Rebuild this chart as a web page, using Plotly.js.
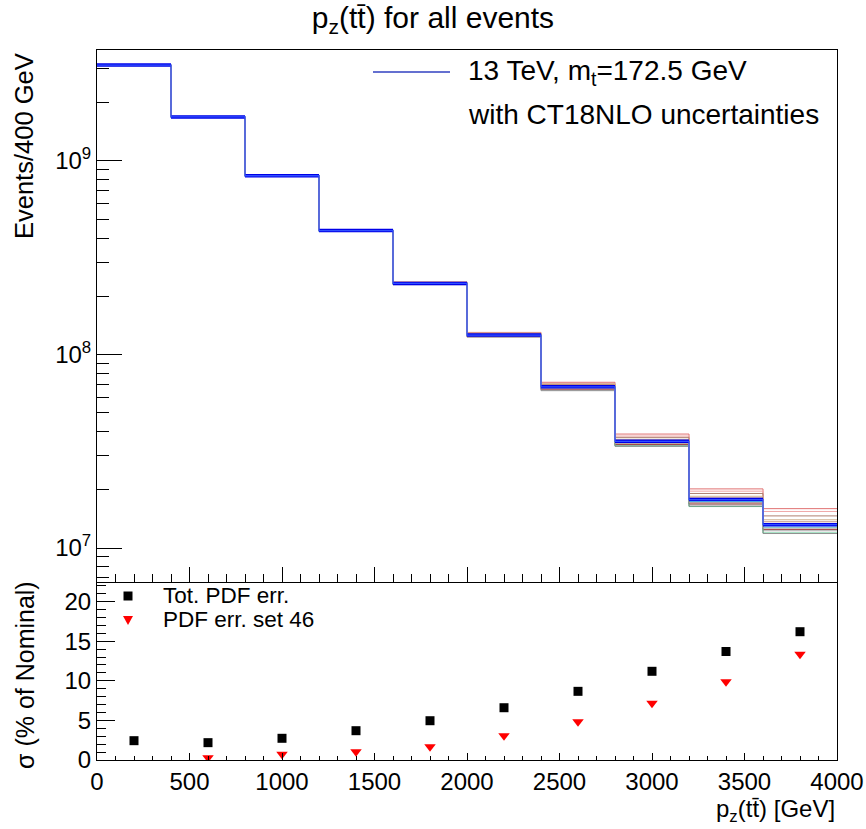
<!DOCTYPE html>
<html><head><meta charset="utf-8">
<script src="https://cdn.plot.ly/plotly-3.0.1.min.js"></script>
<style>body{margin:0;padding:0;background:#fff}</style>
</head><body><div id="chart" style="width:866px;height:829px"></div>
<script>
// ---- data ----
const binEdges = [0,400,800,1200,1600,2000,2400,2800,3200,3600,4000];
const binCenters = [200,600,1000,1400,1800,2200,2600,3000,3400,3800];
const nominal = [3.13e9,1.69e9,8.39e8,4.37e8,2.33e8,1.26e8,6.81e7,3.56e7,1.78e7,1.32e7];
// PDF variation sets, % deviation from nominal per bin
const var1 = [0.5,0.3,0.2,0.8,1.8,3.2,5.5,9.0,13.5,21.0];
const var2 = [0.3,0.2,0.3,0.6,1.2,2.2,3.8,6.5,10.5,17.0];
const var3 = [-0.3,-0.2,0.1,0.4,0.9,1.6,2.8,4.8,7.5,11.0];
const var4 = [-0.4,-0.5,-0.6,-0.9,-1.5,-2.5,-3.6,-4.5,-6.0,-7.0];
const var5 = [0.2,0.1,-0.2,-0.5,-1.0,-1.8,-2.8,-3.8,-5.0,-5.5];
const var6 = [0.1,0.4,0.5,0.9,1.5,2.4,3.5,2.5,4.0,6.0];
const var7 = [0.6,0.7,0.8,1.0,0.8,0.5,0.3,-1.5,-2.5,-3.0];
const var8 = [-0.6,-0.8,-0.9,-1.1,-1.2,-1.0,-0.6,-5.5,-8.0,-9.5];
const var9 = [-0.2,-0.3,-0.4,-0.3,-0.6,-1.2,-4.5,-5.8,-7.5,-10.0];
const var10 = [0.4,0.5,0.6,0.3,0.4,0.8,1.5,1.2,2.0,3.5];
const var11 = [-0.5,-0.4,-0.3,-0.7,-0.9,-2.0,-1.8,-2.5,-3.5,-4.0];
const variationSets = [var1,var2,var3,var4,var5,var6,var7,var8,var9,var10,var11];
const variationColors = ['#e07070','#f0a8a8','#b08070','#a8a8a8','#a04040','#d0b090','#40d8e0','#40c080','#909090','#c09080','#b0a0a0'];
// ratio panel (% of nominal)
const totPdfErr = [2.44,2.19,2.74,3.70,4.96,6.60,8.67,11.2,13.7,16.2];
const set46Err = [null,0.29,0.72,1.05,1.68,3.07,4.84,7.16,9.89,13.35];
const yTickVals = [1e7,1e8,1e9];
const yTickText = ['10<sup>7</sup>','10<sup>8</sup>','10<sup>9</sup>'];

const FONT = 'Liberation Sans, Arial, Helvetica, sans-serif';

function stepY(vals){ return vals.concat([vals[vals.length-1]]); }
function hSegs(vals){
  const xs=[], ys=[];
  for(let i=0;i<vals.length;i++){ xs.push(binEdges[i],binEdges[i+1],null); ys.push(vals[i],vals[i],null); }
  return {x:xs,y:ys};
}

const traces = [];
variationSets.forEach((v,k)=>{
  const vals = nominal.map((n,i)=>n*(1+v[i]/100));
  traces.push({type:'scatter',mode:'lines',x:binEdges,y:stepY(vals),line:{shape:'hv',color:variationColors[k],width:1},
    xaxis:'x2',yaxis:'y2',showlegend:false,hoverinfo:'skip'});
});
const hs = hSegs(nominal);
traces.push({type:'scatter',mode:'lines',x:hs.x,y:hs.y,line:{color:'#0000e8',width:3.5},xaxis:'x2',yaxis:'y2',showlegend:false,connectgaps:false});
traces.push({type:'scatter',mode:'lines',x:binEdges,y:stepY(nominal),line:{shape:'hv',color:'#3050ff',width:1.3},xaxis:'x2',yaxis:'y2',showlegend:false});

traces.push({type:'scatter',mode:'markers',x:binCenters,y:totPdfErr,marker:{symbol:'square',size:9,color:'#000'},xaxis:'x',yaxis:'y',showlegend:false,cliponaxis:true});
traces.push({type:'scatter',mode:'markers',x:binCenters,y:set46Err,marker:{symbol:'triangle-down',size:10,color:'#ff0000'},xaxis:'x',yaxis:'y',showlegend:false,cliponaxis:true});

// minor ticks for log axis
const logMinor=[];
for(let d=6; d<=9; d++){ for(let m=2;m<=9;m++){ logMinor.push(m*Math.pow(10,d)); } }

const axCommon = {showgrid:false,zeroline:false,showline:true,linecolor:'#000',linewidth:1,mirror:true,ticks:'inside',tickcolor:'#000',tickwidth:1,
  tickfont:{family:FONT,size:24,color:'#000'}};

const px = x=>(x-97)/740, py = y=>(760-y)/710;

const layout = {
  width:866,height:829,
  margin:{l:97,r:29,t:50,b:69},
  paper_bgcolor:'#fff',plot_bgcolor:'#fff',
  font:{family:FONT,color:'#000'},
  title:{text:'p<sub>z</sub>(tt\u0304) for all events',font:{family:FONT,size:30,color:'#000'},x:0.5,xanchor:'center',y:0.979,yanchor:'middle'},
  xaxis:Object.assign({},axCommon,{anchor:'y',domain:[0,1],range:[0,4000],tickmode:'linear',tick0:0,dtick:500,ticklen:7,
    minor:{dtick:100,ticklen:4,ticks:'inside',tickcolor:'#000'}}),
  xaxis2:Object.assign({},axCommon,{anchor:'y2',domain:[0,1],range:[0,4000],tickmode:'linear',tick0:0,dtick:500,ticklen:15,showticklabels:false,
    minor:{dtick:100,ticklen:8,ticks:'inside',tickcolor:'#000'}}),
  yaxis:Object.assign({},axCommon,{anchor:'x',domain:[0,0.2493],range:[0,22.35],tickmode:'linear',tick0:0,dtick:5,ticklen:18,
    minor:{dtick:1,ticklen:9,ticks:'inside',tickcolor:'#000'}}),
  yaxis2:Object.assign({},axCommon,{anchor:'x2',domain:[0.2507,1],type:'log',range:[6.8243,9.5736],tickmode:'array',tickvals:yTickVals,ticktext:yTickText,ticklen:25,
    minor:{tickmode:'array',tickvals:logMinor,ticklen:12,ticks:'inside',tickcolor:'#000'}}),
  shapes:[
    {type:'line',xref:'paper',yref:'paper',x0:px(373),x1:px(450),y0:py(72),y1:py(72),line:{color:'#3040c0',width:1.3}},
    {type:'rect',xref:'paper',yref:'paper',x0:px(123.5),x1:px(132.5),y0:py(600.5),y1:py(591.5),fillcolor:'#000',line:{width:0}},
    {type:'path',xref:'paper',yref:'paper',path:'M '+px(123)+' '+py(616)+' L '+px(133)+' '+py(616)+' L '+px(128)+' '+py(625)+' Z',fillcolor:'#ff0000',line:{width:0}}
  ],
  annotations:[
    {text:'13 TeV, m<sub>t</sub>=172.5 GeV',xref:'paper',yref:'paper',x:px(466),y:py(73),xanchor:'left',yanchor:'middle',showarrow:false,font:{family:FONT,size:28,color:'#000'}},
    {text:'with CT18NLO uncertainties',xref:'paper',yref:'paper',x:px(466),y:py(115),xanchor:'left',yanchor:'middle',showarrow:false,font:{family:FONT,size:28,color:'#000'}},
    {text:'Tot. PDF err.',xref:'paper',yref:'paper',x:px(161),y:py(595),xanchor:'left',yanchor:'middle',showarrow:false,font:{family:FONT,size:22.5,color:'#000'}},
    {text:'PDF err. set 46',xref:'paper',yref:'paper',x:px(161),y:py(619),xanchor:'left',yanchor:'middle',showarrow:false,font:{family:FONT,size:22.5,color:'#000'}},
    {text:'Events/400 GeV',xref:'paper',yref:'paper',x:px(24),y:py(146),xanchor:'center',yanchor:'middle',textangle:-90,showarrow:false,font:{family:FONT,size:25.5,color:'#000'}},
    {text:'\u03c3 (% of Nominal)',xref:'paper',yref:'paper',x:px(25),y:py(675),xanchor:'center',yanchor:'middle',textangle:-90,showarrow:false,font:{family:FONT,size:25,color:'#000'}},
    {text:'p<sub>z</sub>(tt\u0304) [GeV]',xref:'paper',yref:'paper',x:px(837),y:py(811),xanchor:'right',yanchor:'middle',showarrow:false,font:{family:FONT,size:24,color:'#000'}}
  ]
};

Plotly.newPlot('chart',traces,layout,{displayModeBar:false,staticPlot:true});
</script></body></html>
